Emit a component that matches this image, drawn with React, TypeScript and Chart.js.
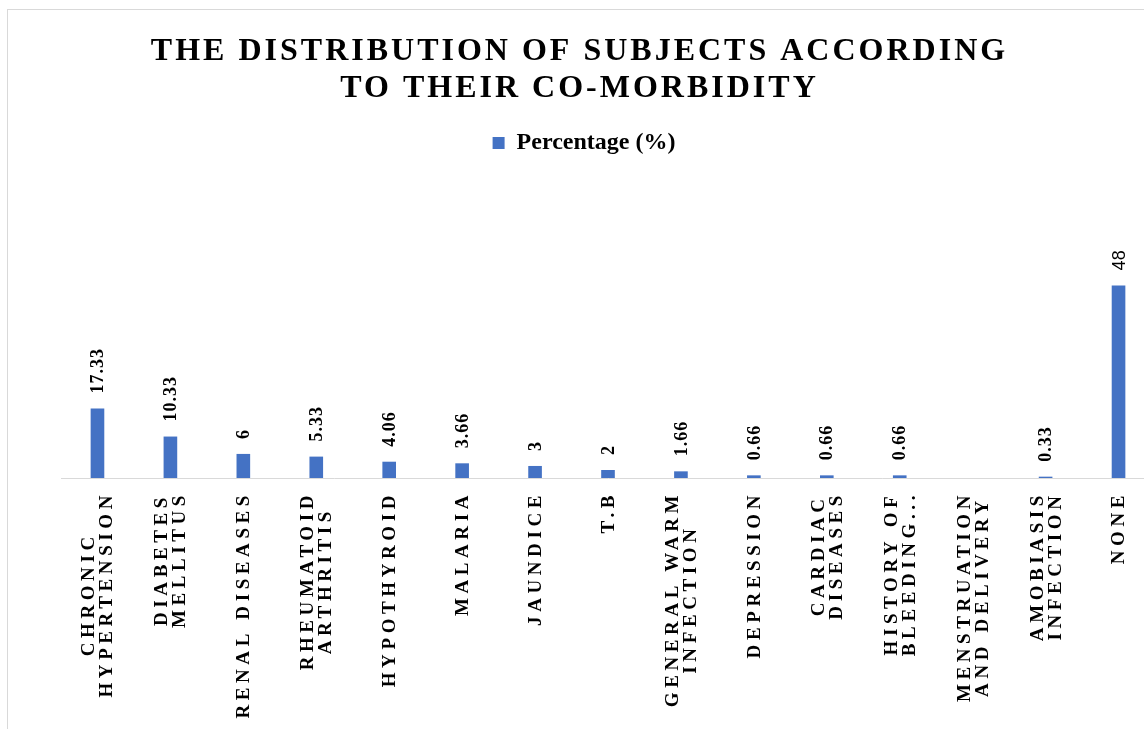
import React, { useEffect, useRef } from 'react';
import { Chart, registerables } from 'chart.js';

Chart.register(...registerables);

const TITLE_LINES: string[] = ['THE DISTRIBUTION OF SUBJECTS ACCORDING', 'TO THEIR CO-MORBIDITY'];
const SERIES_NAME = 'Percentage (%)';
const CATEGORIES: string[][] = [
  ['CHRONIC', 'HYPERTENSION'],
  ['DIABETES', 'MELLITUS'],
  ['RENAL DISEASES'],
  ['RHEUMATOID', 'ARTHRITIS'],
  ['HYPOTHYROID'],
  ['MALARIA'],
  ['JAUNDICE'],
  ['T.B'],
  ['GENERAL WARM', 'INFECTION'],
  ['DEPRESSION'],
  ['CARDIAC', 'DISEASES'],
  ['HISTORY OF', 'BLEEDING...'],
  ['MENSTRUATION', 'AND DELIVERY'],
  ['AMOBIASIS', 'INFECTION'],
  ['NONE'],
];
const VALUES: (number | null)[] = [17.33, 10.33, 6, 5.33, 4.06, 3.66, 3, 2, 1.66, 0.66, 0.66, 0.66, null, 0.33, 48];
const SANS_LABEL_INDEX = 14;
const Y_MAX = 78;

const BAR_COLOR = '#4472C4';
const SERIF = '"Liberation Serif", "Times New Roman", serif';
const SANS = '"Liberation Sans", Arial, sans-serif';

const textPlugin = {
  id: 'customText',
  afterDraw(chart: any) {
    const ctx: any = chart.ctx;
    // Title
    ctx.save();
    ctx.fillStyle = '#000';
    ctx.font = `bold 32px ${SERIF}`;
    ctx.letterSpacing = '3px';
    ctx.textAlign = 'center';
    ctx.textBaseline = 'alphabetic';
    TITLE_LINES.forEach((t, i) => ctx.fillText(t, chart.width / 2 - 2, 50 + i * 37));
    ctx.restore();

    // Category labels (rotated, lines centered)
    const xs = chart.scales.x;
    ctx.save();
    ctx.fillStyle = '#000';
    ctx.font = `bold 19px ${SERIF}`;
    ctx.letterSpacing = '4.6px';
    ctx.textBaseline = 'middle';
    ctx.textAlign = 'center';
    CATEGORIES.forEach((lines, i) => {
      const cx = xs.getPixelForValue(i) + 1;
      const maxW = Math.max(...lines.map((l) => ctx.measureText(l).width));
      ctx.save();
      ctx.translate(cx, xs.top + 13);
      ctx.rotate(-Math.PI / 2);
      lines.forEach((l, j) => ctx.fillText(l, -maxW / 2, (j - (lines.length - 1) / 2) * 18));
      ctx.restore();
    });
    ctx.restore();

    // Data labels
    const meta = chart.getDatasetMeta(0);
    ctx.save();
    ctx.fillStyle = '#000';
    ctx.textAlign = 'left';
    ctx.textBaseline = 'middle';
    meta.data.forEach((el: any, i: number) => {
      const v = VALUES[i];
      if (v === null || v === undefined) return;
      ctx.save();
      if (i === SANS_LABEL_INDEX) {
        ctx.font = `18px ${SANS}`;
        ctx.letterSpacing = '0px';
      } else {
        ctx.font = `bold 18px ${SERIF}`;
        ctx.letterSpacing = '1px';
      }
      ctx.translate(el.x + 1, el.y - 15);
      ctx.rotate(-Math.PI / 2);
      ctx.fillText(String(v), 0, 0);
      ctx.restore();
    });
    ctx.restore();
  },
};

export default function App() {
  const ref = useRef<HTMLCanvasElement>(null);

  useEffect(() => {
    document.body.style.margin = '0';
    document.body.style.overflow = 'hidden';
    if (!ref.current) return;
    const chart = new Chart(ref.current, {
      type: 'bar',
      data: {
        labels: CATEGORIES,
        datasets: [
          {
            label: SERIES_NAME,
            data: VALUES,
            backgroundColor: BAR_COLOR,
            borderWidth: 0,
            barPercentage: 0.187,
            categoryPercentage: 1,
          },
        ],
      },
      options: {
        responsive: false,
        animation: false,
        layout: { padding: { top: 112, left: 5, right: 0, bottom: 0 } },
        plugins: {
          legend: {
            display: true,
            position: 'top',
            labels: {
              font: { family: SERIF, size: 24, weight: 'bold' },
              color: '#000',
              boxWidth: 12,
              boxHeight: 12,
              padding: 9,
            },
          },
          tooltip: { enabled: false },
          title: { display: false },
        },
        scales: {
          x: {
            grid: { display: false },
            border: { display: true, color: '#d9d9d9', width: 1 },
            ticks: { display: false },
            afterFit: (s: any) => {
              s.height = 253;
            },
          },
          y: {
            min: 0,
            max: Y_MAX,
            display: true,
            grid: { display: false },
            border: { display: false },
            ticks: { display: false },
            afterFit: (s: any) => {
              s.width = 48;
            },
          },
        },
      } as any,
      plugins: [textPlugin],
    });
    return () => chart.destroy();
  }, []);

  return (
    <div style={{ position: 'relative', width: 1144, height: 729, overflow: 'hidden', background: '#fff' }}>
      <div
        style={{
          position: 'absolute',
          left: 7,
          top: 9,
          width: 1200,
          height: 800,
          border: '1px solid #d9d9d9',
          background: '#fff',
        }}
      >
        <canvas ref={ref} width={1147} height={721} style={{ display: 'block', width: 1147, height: 721 }} />
      </div>
    </div>
  );
}
